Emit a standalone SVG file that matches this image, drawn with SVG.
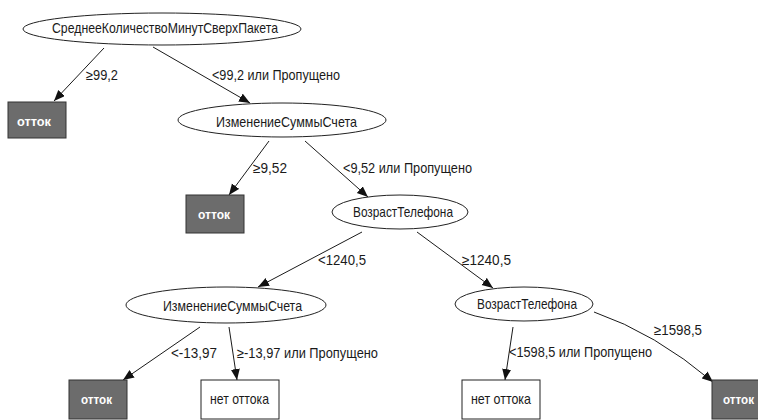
<svg xmlns="http://www.w3.org/2000/svg" width="758" height="420" viewBox="0 0 758 420">
<style>
text{font-family:"Liberation Sans","DejaVu Sans",sans-serif;font-size:15px;fill:#1a1a1a}
.n ellipse{fill:#fff;stroke:#222;stroke-width:1}
.leaf rect{fill:#fff;stroke:#222;stroke-width:1}
.churn rect{fill:#6c6c6c;stroke:#333;stroke-width:1}
.churn text{fill:#fff;font-weight:bold;font-size:13px}
.e{fill:none;stroke:#1a1a1a;stroke-width:1;marker-end:url(#ah)}
.lbl{font-size:14px}
</style>
<defs>
<marker id="ah" markerUnits="userSpaceOnUse" markerWidth="12" markerHeight="10" refX="11" refY="4.5" orient="auto">
<path d="M0,0 L11,4.5 L0,9 Z" fill="#111"/>
</marker>
</defs>
<g id="edges">
<path class="e" d="M104,48 L54,101"/>
<path class="e" d="M153,47 L250,103"/>
<path class="e" d="M269,141 L229,195"/>
<path class="e" d="M305,141 L368,197"/>
<path class="e" d="M362,232 L258,287"/>
<path class="e" d="M417,232 L493,288"/>
<path class="e" d="M200,327 L123,380"/>
<path class="e" d="M229,327 L237,380"/>
<path class="e" d="M513,327 L505,380"/>
<path class="e" d="M594,312 Q655,333 713,382"/>
<text class="lbl" x="86" y="80" textLength="32" lengthAdjust="spacingAndGlyphs">≥99,2</text>
<text class="lbl" x="212" y="80" textLength="128" lengthAdjust="spacingAndGlyphs">&lt;99,2 или Пропущено</text>
<text class="lbl" x="253" y="173" textLength="34" lengthAdjust="spacingAndGlyphs">≥9,52</text>
<text class="lbl" x="343" y="173" textLength="129" lengthAdjust="spacingAndGlyphs">&lt;9,52 или Пропущено</text>
<text class="lbl" x="318" y="265" textLength="48" lengthAdjust="spacingAndGlyphs">&lt;1240,5</text>
<text class="lbl" x="462" y="265" textLength="49" lengthAdjust="spacingAndGlyphs">≥1240,5</text>
<text class="lbl" x="171" y="358" textLength="46" lengthAdjust="spacingAndGlyphs">&lt;-13,97</text>
<text class="lbl" x="237" y="358" textLength="141" lengthAdjust="spacingAndGlyphs">≥-13,97 или Пропущено</text>
<text class="lbl" x="509" y="357" textLength="143" lengthAdjust="spacingAndGlyphs">&lt;1598,5 или Пропущено</text>
<text class="lbl" x="654" y="335" textLength="48" lengthAdjust="spacingAndGlyphs">≥1598,5</text>
</g>
<g id="root" class="n">
<ellipse cx="162" cy="29" rx="139" ry="16"/>
<text x="52" y="33" textLength="226" lengthAdjust="spacingAndGlyphs">СреднееКоличествоМинутСверхПакета</text>
</g>
<g id="leaf1" class="churn">
<rect x="8" y="102" width="58" height="36"/>
<text x="17" y="126" textLength="34" lengthAdjust="spacingAndGlyphs">отток</text>
</g>
<g id="node2" class="n">
<ellipse cx="282" cy="120" rx="104" ry="17"/>
<text x="216" y="127" textLength="141" lengthAdjust="spacingAndGlyphs">ИзменениеСуммыСчета</text>
</g>
<g id="leaf2" class="churn">
<rect x="186" y="195" width="58" height="38"/>
<text x="198" y="219" textLength="32" lengthAdjust="spacingAndGlyphs">отток</text>
</g>
<g id="node3" class="n">
<ellipse cx="400" cy="212" rx="68" ry="17"/>
<text x="353" y="217" textLength="100" lengthAdjust="spacingAndGlyphs">ВозрастТелефона</text>
</g>
<g id="node4" class="n">
<ellipse cx="226" cy="305" rx="100" ry="18"/>
<text x="163" y="311" textLength="139" lengthAdjust="spacingAndGlyphs">ИзменениеСуммыСчета</text>
</g>
<g id="node5" class="n">
<ellipse cx="524" cy="304" rx="69" ry="17"/>
<text x="477" y="309" textLength="100" lengthAdjust="spacingAndGlyphs">ВозрастТелефона</text>
</g>
<g id="leaf3" class="churn">
<rect x="69" y="380" width="58" height="39"/>
<text x="81" y="404" textLength="31" lengthAdjust="spacingAndGlyphs">отток</text>
</g>
<g id="leaf4" class="leaf">
<rect x="201" y="380" width="78" height="39"/>
<text x="210" y="404" textLength="59" lengthAdjust="spacingAndGlyphs">нет оттока</text>
</g>
<g id="leaf5" class="leaf">
<rect x="462" y="380" width="78" height="39"/>
<text x="471" y="404" textLength="60" lengthAdjust="spacingAndGlyphs">нет оттока</text>
</g>
<g id="leaf6" class="churn">
<rect x="712" y="380" width="58" height="39"/>
<text x="723" y="404" textLength="31" lengthAdjust="spacingAndGlyphs">отток</text>
</g>
</svg>
